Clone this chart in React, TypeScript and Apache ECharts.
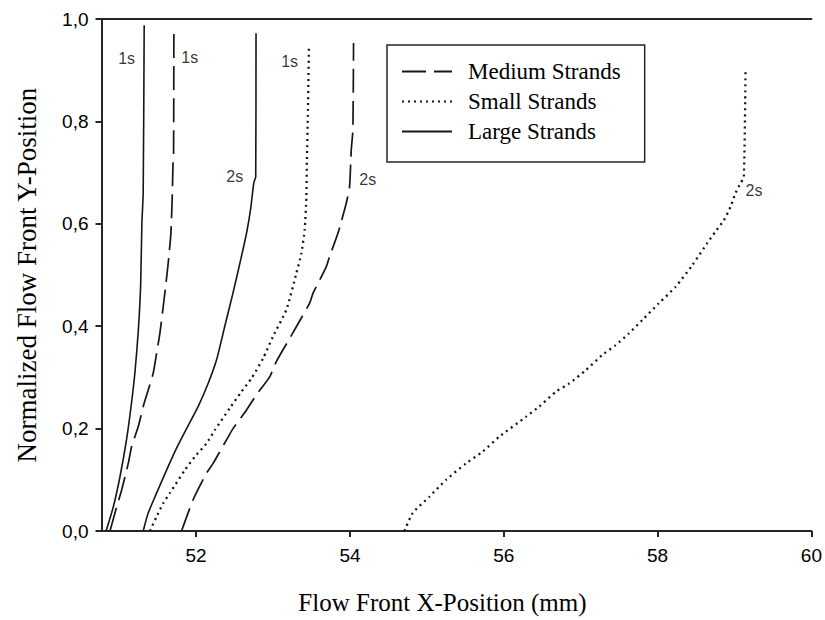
import React, { useEffect, useRef } from "react";
import * as echarts from "echarts";

// Flow front positions [x (mm), normalized y] for each strand size and time
const large1s: number[][] = [
  [50.83, 0], [50.923, 0.047], [51.01, 0.106], [51.097, 0.18], [51.16, 0.25],
  [51.205, 0.31], [51.248, 0.39], [51.279, 0.48], [51.295, 0.6], [51.312, 0.66],
  [51.325, 0.988],
];
const large2s: number[][] = [
  [51.312, 0], [51.377, 0.035], [51.486, 0.074], [51.616, 0.119], [51.746, 0.162],
  [51.876, 0.2], [52.026, 0.243], [52.156, 0.288], [52.265, 0.334], [52.373, 0.4],
  [52.48, 0.465], [52.58, 0.53], [52.66, 0.585], [52.71, 0.63], [52.75, 0.68],
  [52.775, 0.692], [52.779, 0.972],
];
const medium1s: number[][] = [
  [50.88, 0], [50.967, 0.047], [51.032, 0.08], [51.118, 0.132], [51.162, 0.165],
  [51.248, 0.204], [51.312, 0.243], [51.377, 0.275], [51.442, 0.308], [51.486, 0.347],
  [51.529, 0.386], [51.572, 0.438], [51.603, 0.477], [51.637, 0.523], [51.672, 0.581],
  [51.689, 0.65], [51.7, 0.72], [51.707, 0.738], [51.711, 0.985],
];
const medium2s: number[][] = [
  [51.811, 0], [51.961, 0.061], [52.135, 0.113], [52.221, 0.132], [52.395, 0.178],
  [52.48, 0.2], [52.654, 0.236], [52.784, 0.266], [52.957, 0.301], [53.043, 0.331],
  [53.216, 0.376], [53.303, 0.399], [53.476, 0.445], [53.519, 0.464], [53.692, 0.516],
  [53.735, 0.536], [53.843, 0.581], [53.887, 0.604], [53.952, 0.64], [53.995, 0.672],
  [54.017, 0.744], [54.038, 0.783], [54.047, 0.953],
];
const small1s: number[][] = [
  [51.4, 0], [51.486, 0.028], [51.572, 0.054], [51.659, 0.074], [51.854, 0.119],
  [51.983, 0.145], [52.135, 0.171], [52.243, 0.197], [52.438, 0.24], [52.589, 0.272],
  [52.719, 0.298], [52.87, 0.337], [53.0, 0.38], [53.173, 0.432], [53.303, 0.503],
  [53.368, 0.542], [53.411, 0.588], [53.433, 0.65], [53.44, 0.72], [53.454, 0.822],
  [53.467, 0.949],
];
const small2s: number[][] = [
  [54.708, 0], [54.816, 0.035], [55.033, 0.067], [55.25, 0.1], [55.509, 0.132],
  [55.725, 0.155], [55.941, 0.184], [56.288, 0.223], [56.46, 0.243], [56.677, 0.272],
  [56.85, 0.288], [57.066, 0.314], [57.282, 0.344], [57.455, 0.363], [57.628, 0.386],
  [57.801, 0.412], [58.017, 0.445], [58.234, 0.477], [58.45, 0.519], [58.644, 0.562],
  [58.753, 0.585], [58.861, 0.607], [58.948, 0.633], [59.013, 0.66], [59.078, 0.679],
  [59.121, 0.692], [59.143, 0.9],
];

// Time annotations placed next to each front
const timeLabelText: string[] = ["1s", "1s", "2s", "1s", "2s", "2s"];
const timeLabelX: number[] = [51.097, 51.918, 52.502, 53.216, 54.232, 59.253];
const timeLabelY: number[] = [0.923, 0.924, 0.692, 0.917, 0.686, 0.666];

const xTicks: number[] = [52, 54, 56, 58, 60];
const xMin = 50.77;
const xMax = 60;

const legendNames: string[] = ["Medium Strands", "Small Strands", "Large Strands"];

const INK = "#161616";
const AXIS = "#262626";
const SANS = "'Liberation Sans', Arial, sans-serif";
const SERIF = "'Liberation Serif', 'Times New Roman', serif";

const dashStyles: Record<string, any> = {
  "Medium Strands": { type: [24, 8], width: 1.7 },
  "Small Strands": { type: [2, 4], width: 2.3 },
  "Large Strands": { type: "solid", width: 1.6 },
};

function curve(name: string, data: number[][]) {
  return {
    type: "line",
    name,
    data,
    showSymbol: false,
    symbol: "none",
    smooth: 0.2,
    lineStyle: { color: INK, ...dashStyles[name] },
    itemStyle: { color: INK },
    silent: true,
    z: 3,
  };
}

export default function App() {
  const ref = useRef<HTMLDivElement>(null);

  useEffect(() => {
    if (!ref.current) return;
    const chart = echarts.init(ref.current, undefined, { renderer: "svg" });

    const labelData = timeLabelText.map((t, i) => ({
      name: t,
      value: [timeLabelX[i], timeLabelY[i]],
    }));

    chart.setOption({
      animation: false,
      backgroundColor: "#ffffff",
      grid: { left: 101.5, right: 12, top: 19, bottom: 89, containLabel: false },
      legend: {
        data: legendNames,
        orient: "vertical",
        left: 387,
        top: 45,
        itemWidth: 50,
        itemHeight: 14,
        itemGap: 7,
        padding: [15, 24, 19, 14],
        borderColor: AXIS,
        borderWidth: 1.5,
        selectedMode: false,
        itemStyle: { color: "rgba(0,0,0,0)", borderWidth: 0, opacity: 0 },
        textStyle: {
          fontFamily: SERIF,
          fontSize: 23,
          lineHeight: 22,
          color: "#000",
          padding: [0, 0, 0, 11],
        },
      },
      xAxis: [
        {
          type: "value",
          min: xMin,
          max: xMax,
          position: "bottom",
          name: "Flow Front X-Position (mm)",
          nameLocation: "middle",
          nameGap: 59,
          nameTextStyle: {
            fontFamily: SERIF,
            fontSize: 25,
            color: "#000",
            padding: [0, 28, 0, 0],
          },
          axisLine: { show: true, onZero: false, lineStyle: { color: AXIS, width: 2 } },
          axisTick: {
            show: true,
            length: 6,
            customValues: xTicks,
            lineStyle: { color: AXIS, width: 2 },
          },
          axisLabel: {
            customValues: xTicks,
            margin: 15,
            fontFamily: SANS,
            fontSize: 19,
            color: "#000",
            formatter: (v: number) => String(v),
          },
          splitLine: { show: false },
        },
        {
          type: "value",
          min: xMin,
          max: xMax,
          position: "top",
          axisLine: { show: true, onZero: false, lineStyle: { color: AXIS, width: 2 } },
          axisTick: { show: false },
          axisLabel: { show: false },
          splitLine: { show: false },
        },
      ],
      yAxis: {
        type: "value",
        min: 0,
        max: 1,
        interval: 0.2,
        name: "Normalized Flow Front Y-Position",
        nameLocation: "middle",
        nameGap: 61,
        nameTextStyle: { fontFamily: SERIF, fontSize: 27, color: "#000" },
        axisLine: { show: true, onZero: false, lineStyle: { color: AXIS, width: 2 } },
        axisTick: { show: true, length: 6, lineStyle: { color: AXIS, width: 2 } },
        axisLabel: {
          margin: 13,
          fontFamily: SANS,
          fontSize: 19,
          color: "#000",
          formatter: (v: number) => v.toFixed(1).replace(".", ","),
        },
        splitLine: { show: false },
      },
      series: [
        curve("Medium Strands", medium1s),
        curve("Medium Strands", medium2s),
        curve("Small Strands", small1s),
        curve("Small Strands", small2s),
        curve("Large Strands", large1s),
        curve("Large Strands", large2s),
        {
          type: "scatter",
          name: "time",
          data: labelData,
          symbolSize: 1,
          itemStyle: { color: "rgba(0,0,0,0)" },
          silent: true,
          z: 4,
          label: {
            show: true,
            position: "inside",
            formatter: (p: any) => p.name,
            fontFamily: SANS,
            fontSize: 16,
            color: "#000",
          },
        },
      ],
    });

    return () => chart.dispose();
  }, []);

  return (
    <div
      ref={ref}
      style={{ position: "fixed", left: 0, top: 0, width: 825, height: 620, background: "#fff" }}
    />
  );
}
